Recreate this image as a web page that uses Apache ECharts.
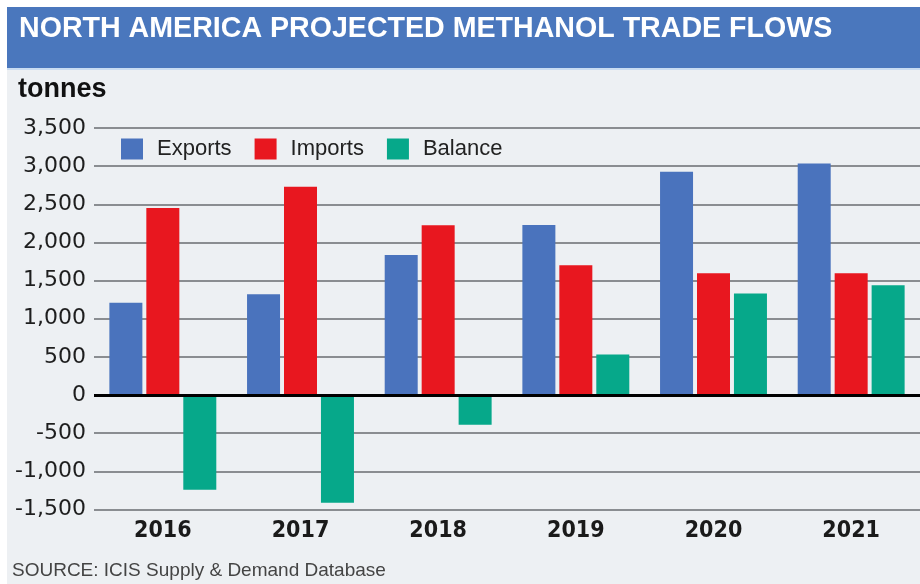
<!DOCTYPE html>
<html>
<head>
<meta charset="utf-8">
<script src="https://cdn.jsdelivr.net/npm/echarts@6/dist/echarts.min.js"></script>
<style>
html,body{margin:0;padding:0;background:#ffffff;}
#c{width:920px;height:584px;}
</style>
</head>
<body>
<div id="c"></div>
<script>
const categories = ['2016', '2017', '2018', '2019', '2020', '2021'];
const exportsData = [1210, 1320, 1835, 2230, 2925, 3035];
const importsData = [2450, 2730, 2225, 1700, 1595, 1595];
const balanceData = [-1240, -1410, -390, 530, 1330, 1440];
const seriesNames = ['Exports', 'Imports', 'Balance'];
const yTicks = { min: -1500, max: 3500, interval: 500 };
const titleText = 'NORTH AMERICA PROJECTED METHANOL TRADE FLOWS';
const unitText = 'tonnes';
const sourceText = 'SOURCE: ICIS Supply & Demand Database';

const chart = echarts.init(document.getElementById('c'), null, { renderer: 'canvas' });
const colors = ['#4a73bd', '#e8171f', '#06a88a'];

const option = {
  animation: false,
  backgroundColor: 'transparent',
  color: colors,
  graphic: [
    { type: 'rect', z: -10, shape: { x: 7, y: 7, width: 913, height: 577 }, style: { fill: '#edf0f3' } },
    { type: 'rect', z: -9, shape: { x: 7, y: 7, width: 913, height: 61 }, style: { fill: '#4a77bd' } },
    { type: 'rect', z: -9, shape: { x: 7, y: 68, width: 913, height: 2 }, style: { fill: '#c9dcf2' } }
  ],
  title: [
    { text: titleText, left: 19, top: 15, padding: 0,
      textStyle: { color: '#ffffff', fontFamily: 'Liberation Sans', fontWeight: 'bold', fontSize: 28.6 } },
    { text: unitText, left: 18, top: 76, padding: 0,
      textStyle: { color: '#111111', fontFamily: 'Liberation Sans', fontWeight: 'bold', fontSize: 27 } },
    { text: sourceText, left: 12, top: 561, padding: 0,
      textStyle: { color: '#444444', fontFamily: 'Liberation Sans', fontWeight: 'normal', fontSize: 19 } }
  ],
  legend: {
    data: seriesNames,
    left: 121, top: 138, padding: 0,
    itemWidth: 22, itemHeight: 21, itemGap: 23,
    icon: 'rect',
    textStyle: { color: '#222222', fontFamily: 'Liberation Sans', fontSize: 22, padding: [0, 0, 0, 9] }
  },
  grid: { left: 94, top: 128, width: 828, height: 381.5, containLabel: false },
  xAxis: {
    type: 'category',
    data: categories,
    axisLine: { show: false, onZero: false },
    axisTick: { show: false },
    axisLabel: { margin: 10, color: '#1a1a1a', fontFamily: 'DejaVu Sans Condensed', fontWeight: 'bold', fontSize: 23 }
  },
  yAxis: {
    type: 'value',
    min: yTicks.min, max: yTicks.max, interval: yTicks.interval,
    axisLine: { show: false },
    axisTick: { show: false },
    axisLabel: {
      margin: 8, color: '#1e1e1e', fontFamily: 'DejaVu Sans', fontSize: 22,
      formatter: v => v.toLocaleString('en-US')
    },
    splitLine: { show: true, lineStyle: { color: '#8a8d91', width: 2 } }
  },
  series: [
    { name: seriesNames[0], type: 'bar', data: exportsData, barWidth: 33, barGap: '12%',
      markLine: { silent: true, symbol: 'none', label: { show: false },
        lineStyle: { color: '#000000', width: 3, type: 'solid' }, data: [{ yAxis: 0 }] } },
    { name: seriesNames[1], type: 'bar', data: importsData, barWidth: 33, barGap: '12%' },
    { name: seriesNames[2], type: 'bar', data: balanceData, barWidth: 33, barGap: '12%' }
  ]
};
chart.setOption(option);
</script>
</body>
</html>
